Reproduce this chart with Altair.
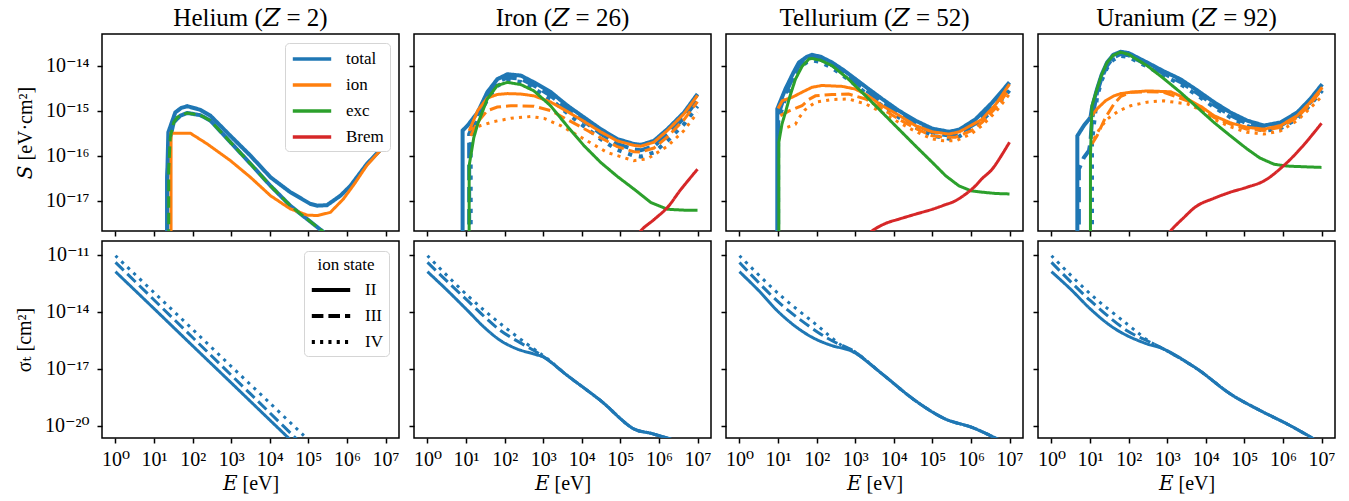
import altair as alt
import pandas as pd

FONT = "Liberation Serif, DejaVu Serif"
BLUE, ORANGE, GREEN, RED = "#1f77b4", "#ff7f0e", "#2ca02c", "#d62728"
COMPONENTS = ["total", "ion", "exc", "Brem"]
COMP_COLORS = [BLUE, ORANGE, GREEN, RED]
ION_STATES = ["II", "III", "IV"]
ELEMENTS = ["Helium", "Iron", "Tellurium", "Uranium"]
ATOMIC_NUMBERS = [2, 26, 52, 92]
X_TICK_EXP = [0, 1, 2, 3, 4, 5, 6, 7]
S_TICK_EXP = [-17, -16, -15, -14]
SIGMA_TICK_EXP = [-20, -17, -14, -11]
X_DOMAIN_EXP = [-0.35, 7.35]
S_DOMAIN_EXP = [-17.673, -13.296]
SIGMA_DOMAIN_EXP = [-20.648, -10.262]

# All curves: (log10 E [eV], log10 value).
# ---------------- stopping power S [eV cm^2] ----------------
HE_S_TOTAL_II = [(1.34, -19.0), (1.34, -16.5), (1.37, -15.48), (1.55, -15.04), (1.70, -14.94), (1.86, -14.90),
                 (2.20, -14.98), (2.46, -15.11), (2.98, -15.56), (3.50, -16.00), (4.02, -16.48), (4.53, -16.81),
                 (5.05, -17.07), (5.23, -17.11), (5.48, -17.10), (5.83, -16.89), (6.09, -16.67), (6.52, -16.18),
                 (7.00, -15.75)]
HE_S_TOTAL_LOW = [(1.34, -19.0), (1.34, -16.5), (1.42, -15.59), (1.51, -15.26), (1.68, -15.11), (1.86, -15.05),
                  (2.20, -15.10), (2.46, -15.22), (2.98, -15.70), (3.50, -16.18), (4.02, -16.67), (4.53, -17.11),
                  (4.97, -17.41), (5.40, -17.70), (5.80, -17.98)]
HE_S_ION_II = [(1.44, -19.0), (1.44, -15.50), (1.94, -15.50), (2.38, -15.74), (2.98, -16.11), (3.50, -16.48),
               (4.02, -16.89), (4.53, -17.18), (4.97, -17.32), (5.23, -17.33), (5.57, -17.26), (5.91, -16.96),
               (6.20, -16.62), (6.52, -16.21), (7.00, -15.76)]
HE_S_EXC_III = [(1.38, -19.0), (1.38, -16.3), (1.42, -15.59), (1.51, -15.26), (1.60, -15.15), (1.68, -15.11),
                (1.86, -15.05), (2.20, -15.10), (2.46, -15.22), (2.98, -15.70), (3.50, -16.18), (4.02, -16.67),
                (4.53, -17.11), (4.97, -17.41), (5.40, -17.70), (5.80, -17.98)]

FE_S_TOTAL_II = [(0.91, -19.0), (0.91, -15.44), (1.04, -15.33), (1.30, -15.04), (1.55, -14.59), (1.81, -14.30),
                 (2.07, -14.19), (2.42, -14.22), (2.76, -14.37), (3.20, -14.59), (3.63, -14.89), (4.06, -15.15),
                 (4.49, -15.41), (4.92, -15.63), (5.35, -15.74), (5.53, -15.76), (5.87, -15.67), (6.22, -15.41),
                 (6.65, -15.04), (7.00, -14.63)]
FE_S_TOTAL_III = [(1.08, -19.0), (1.08, -15.52), (1.30, -15.10), (1.55, -14.66), (1.81, -14.37), (2.07, -14.26),
                  (2.42, -14.29), (2.76, -14.44), (3.20, -14.67), (3.63, -14.97), (4.06, -15.24), (4.49, -15.51),
                  (4.92, -15.74), (5.35, -15.86), (5.53, -15.88), (5.87, -15.79), (6.22, -15.53), (6.65, -15.16),
                  (7.00, -14.76)]
FE_S_TOTAL_IV = [(1.12, -19.0), (1.12, -15.60), (1.30, -15.20), (1.55, -14.75), (1.81, -14.45), (2.07, -14.33),
                 (2.42, -14.36), (2.76, -14.51), (3.20, -14.75), (3.63, -15.06), (4.06, -15.35), (4.49, -15.63),
                 (4.92, -15.87), (5.35, -16.00), (5.53, -16.02), (5.87, -15.93), (6.22, -15.67), (6.65, -15.30),
                 (7.00, -14.90)]
FE_S_ION_II = [(1.08, -15.45), (1.30, -15.00), (1.55, -14.72), (1.81, -14.64), (2.07, -14.62), (2.42, -14.63),
               (2.76, -14.67), (3.20, -14.81), (3.63, -15.02), (4.06, -15.24), (4.49, -15.47), (4.92, -15.67),
               (5.35, -15.77), (5.53, -15.79), (5.87, -15.70), (6.22, -15.44), (6.65, -15.07), (7.00, -14.66)]
FE_S_ION_III = [(1.12, -15.56), (1.30, -15.25), (1.55, -15.00), (1.81, -14.92), (2.16, -14.89), (2.76, -14.90),
                (3.20, -15.00), (3.63, -15.20), (4.06, -15.40), (4.49, -15.60), (4.92, -15.80), (5.35, -15.91),
                (5.53, -15.92), (5.87, -15.83), (6.22, -15.58), (6.65, -15.20), (7.00, -14.80)]
FE_S_ION_IV = [(1.12, -15.41), (1.38, -15.33), (1.73, -15.24), (2.16, -15.17), (2.68, -15.13), (3.02, -15.17),
               (3.45, -15.33), (4.06, -15.63), (4.66, -15.93), (5.35, -16.11), (5.70, -16.07), (6.22, -15.79),
               (6.65, -15.44), (7.00, -15.04)]
FE_S_EXC = [(1.08, -19.0), (1.08, -16.22), (1.20, -15.60), (1.30, -15.30), (1.55, -14.74), (1.81, -14.44),
            (2.07, -14.37), (2.42, -14.42), (2.76, -14.56), (3.19, -14.89), (3.63, -15.35), (4.06, -15.78),
            (4.49, -16.15), (4.92, -16.46), (5.35, -16.74), (5.79, -17.04), (6.22, -17.19), (6.65, -17.21),
            (7.00, -17.21)]
FE_S_BREM = [(5.40, -17.90), (5.53, -17.67), (5.90, -17.40), (6.22, -17.15), (6.56, -16.76), (7.00, -16.30)]

TE_S_TOTAL_II = [(0.98, -19.0), (0.98, -14.96), (1.19, -14.52), (1.40, -14.15), (1.54, -13.93), (1.75, -13.80),
                 (1.88, -13.76), (2.10, -13.80), (2.40, -13.93), (2.70, -14.10), (3.01, -14.30), (3.35, -14.52),
                 (3.70, -14.74), (4.13, -15.00), (4.56, -15.22), (5.00, -15.40), (5.26, -15.44), (5.43, -15.47),
                 (5.70, -15.42), (6.12, -15.19), (6.55, -14.82), (7.00, -14.37)]
TE_S_TOTAL_III = [(1.00, -19.0), (1.00, -15.10), (1.19, -14.62), (1.40, -14.23), (1.54, -14.00), (1.75, -13.86),
                  (1.88, -13.82), (2.10, -13.86), (2.40, -13.99), (2.70, -14.17), (3.01, -14.37), (3.35, -14.59),
                  (3.70, -14.82), (4.13, -15.08), (4.56, -15.30), (5.00, -15.48), (5.26, -15.53), (5.43, -15.55),
                  (5.70, -15.50), (6.12, -15.28), (6.55, -14.92), (7.00, -14.47)]
TE_S_TOTAL_IV = [(1.00, -19.0), (1.00, -15.25), (1.19, -14.72), (1.40, -14.30), (1.54, -14.06), (1.75, -13.92),
                 (1.88, -13.88), (2.10, -13.92), (2.40, -14.05), (2.70, -14.23), (3.01, -14.43), (3.35, -14.66),
                 (3.70, -14.89), (4.13, -15.15), (4.56, -15.37), (5.00, -15.55), (5.26, -15.60), (5.43, -15.62),
                 (5.70, -15.57), (6.12, -15.35), (6.55, -15.00), (7.00, -14.55)]
TE_S_ION_II = [(1.00, -14.95), (1.11, -14.78), (1.37, -14.70), (1.62, -14.59), (1.88, -14.48), (2.14, -14.44),
               (2.66, -14.46), (3.01, -14.52), (3.35, -14.68), (3.70, -14.89), (4.13, -15.10), (4.56, -15.33),
               (5.00, -15.47), (5.43, -15.52), (5.70, -15.47), (6.29, -15.19), (6.65, -14.85), (7.00, -14.41)]
TE_S_ION_III = [(1.06, -15.11), (1.30, -15.00), (1.62, -14.89), (1.80, -14.75), (1.97, -14.67), (2.40, -14.64),
                (2.83, -14.63), (3.27, -14.74), (3.70, -14.96), (4.13, -15.19), (4.56, -15.39), (5.00, -15.56),
                (5.30, -15.59), (5.60, -15.59), (6.00, -15.45), (6.29, -15.26), (6.65, -14.93), (7.00, -14.52)]
TE_S_ION_IV = [(1.24, -15.37), (1.45, -15.30), (1.55, -15.15), (1.70, -14.98), (1.97, -14.81), (2.40, -14.75),
               (2.83, -14.74), (3.27, -14.85), (3.70, -15.04), (4.13, -15.26), (4.56, -15.46), (5.00, -15.63),
               (5.30, -15.67), (5.60, -15.67), (6.00, -15.52), (6.29, -15.33), (6.65, -15.02), (7.00, -14.63)]
TE_S_EXC = [(1.02, -19.0), (1.02, -15.70), (1.10, -15.30), (1.19, -15.04), (1.30, -14.70), (1.45, -14.30),
            (1.62, -14.02), (1.80, -13.85), (1.88, -13.84), (2.10, -13.88), (2.40, -14.00), (2.80, -14.28),
            (3.27, -14.67), (3.70, -15.04), (4.13, -15.41), (4.56, -15.78), (5.00, -16.15), (5.35, -16.45),
            (5.69, -16.67), (6.00, -16.78), (6.29, -16.81), (6.65, -16.84), (7.00, -16.85)]
TE_S_BREM = [(3.30, -17.80), (3.44, -17.67), (3.80, -17.50), (4.13, -17.41), (4.56, -17.30), (5.00, -17.19),
             (5.30, -17.10), (5.60, -17.00), (6.03, -16.74), (6.30, -16.50), (6.55, -16.30), (7.00, -15.70)]

U_S_TOTAL_II = [(0.67, -19.0), (0.67, -15.56), (0.84, -15.33), (1.01, -15.15), (1.05, -14.93), (1.18, -14.52),
                (1.30, -14.20), (1.44, -13.93), (1.60, -13.76), (1.79, -13.69), (2.00, -13.72), (2.48, -13.93),
                (2.90, -14.12), (3.34, -14.30), (3.78, -14.55), (4.21, -14.81), (4.64, -15.04), (5.07, -15.22),
                (5.51, -15.33), (5.94, -15.26), (6.37, -15.04), (6.70, -14.75), (7.02, -14.41)]
U_S_TOTAL_III = [(0.71, -19.0), (0.71, -16.30), (0.84, -16.04), (0.97, -15.89), (1.01, -15.70), (1.05, -15.20),
                 (1.18, -14.60), (1.30, -14.27), (1.44, -14.00), (1.60, -13.82), (1.79, -13.74), (2.00, -13.77),
                 (2.48, -13.98), (2.90, -14.17), (3.34, -14.36), (3.78, -14.61), (4.21, -14.87), (4.64, -15.10),
                 (5.07, -15.29), (5.51, -15.40), (5.94, -15.33), (6.37, -15.11), (6.70, -14.82), (7.02, -14.48)]
U_S_TOTAL_IV = [(1.05, -19.0), (1.05, -15.70), (1.18, -14.70), (1.30, -14.33), (1.44, -14.05), (1.60, -13.87),
                (1.79, -13.78), (2.00, -13.81), (2.48, -14.02), (2.90, -14.22), (3.34, -14.41), (3.78, -14.66),
                (4.21, -14.92), (4.64, -15.15), (5.07, -15.34), (5.51, -15.45), (5.94, -15.39), (6.37, -15.18),
                (6.70, -14.88), (7.02, -14.55)]
U_S_ION_II = [(1.01, -15.15), (1.18, -14.96), (1.40, -14.78), (1.62, -14.67), (1.80, -14.62), (2.05, -14.59),
              (2.48, -14.56), (3.09, -14.58), (3.52, -14.74), (3.90, -14.92), (4.21, -15.11), (4.64, -15.27),
              (5.07, -15.37), (5.51, -15.41), (5.94, -15.33), (6.37, -15.11), (6.70, -14.82), (7.02, -14.48)]
U_S_ION_III = [(1.05, -15.74), (1.18, -15.56), (1.40, -15.15), (1.62, -14.85), (1.80, -14.68), (2.05, -14.59),
               (2.48, -14.58), (2.91, -14.59), (3.52, -14.78), (3.90, -14.96), (4.21, -15.15), (4.64, -15.30),
               (5.07, -15.41), (5.51, -15.44), (5.94, -15.37), (6.37, -15.15), (6.70, -14.86), (7.02, -14.52)]
U_S_ION_IV = [(1.10, -15.63), (1.25, -15.40), (1.44, -15.19), (1.75, -15.00), (2.05, -14.89), (2.48, -14.81),
              (2.91, -14.78), (3.52, -14.85), (3.90, -15.00), (4.21, -15.19), (4.64, -15.36), (5.07, -15.48),
              (5.51, -15.52), (5.94, -15.45), (6.37, -15.22), (6.70, -14.95), (7.02, -14.67)]
U_S_EXC = [(1.01, -19.0), (1.01, -16.00), (1.05, -14.89), (1.18, -14.52), (1.30, -14.20), (1.44, -13.93),
           (1.60, -13.77), (1.79, -13.70), (2.00, -13.75), (2.48, -14.00), (2.90, -14.28), (3.34, -14.59),
           (3.78, -14.93), (4.21, -15.26), (4.64, -15.56), (5.07, -15.85), (5.40, -16.05), (5.77, -16.19),
           (6.10, -16.23), (6.37, -16.24), (7.00, -16.26)]
U_S_BREM = [(2.95, -17.85), (3.09, -17.67), (3.40, -17.40), (3.78, -17.11), (4.20, -16.95), (4.64, -16.81),
            (5.07, -16.70), (5.51, -16.56), (6.02, -16.22), (6.50, -15.80), (7.00, -15.28)]

# ---------------- total cross section sigma_t [cm^2] ----------------
HE_SIG_II = [(0.0, -11.88), (1.0, -13.83), (2.0, -15.79), (3.0, -17.74), (4.0, -19.70), (5.0, -21.65)]
HE_SIG_III = [(0.0, -11.39), (1.0, -13.37), (2.0, -15.35), (3.0, -17.33), (4.0, -19.32), (5.0, -21.30)]
HE_SIG_IV = [(0.0, -11.04), (1.0, -12.98), (2.0, -14.92), (3.0, -16.87), (4.0, -18.80), (5.0, -20.75)]

FE_SIG_II = [(0.0, -11.88), (0.52, -12.88), (1.04, -13.93), (1.47, -14.81), (1.90, -15.52), (2.33, -15.96),
             (2.76, -16.22), (3.02, -16.40), (3.63, -17.36), (4.49, -18.68), (5.35, -20.17), (5.79, -20.40),
             (6.22, -20.65), (6.91, -21.05)]
FE_SIG_III = [(0.0, -11.39), (1.04, -13.41), (1.90, -14.99), (2.76, -16.04), (3.06, -16.43), (3.63, -17.36),
              (4.49, -18.68), (5.35, -20.17), (5.79, -20.40), (6.22, -20.65)]
FE_SIG_IV = [(0.0, -11.04), (1.04, -13.14), (1.90, -14.64), (2.76, -15.96), (3.11, -16.47), (3.63, -17.36),
             (4.49, -18.68), (5.35, -20.17), (5.79, -20.40), (6.22, -20.65)]

TE_SIG_II = [(0.0, -11.88), (0.50, -12.88), (1.02, -14.02), (1.54, -14.90), (1.97, -15.43), (2.40, -15.78),
             (2.92, -16.08), (3.70, -17.27), (4.56, -18.68), (5.34, -19.65), (6.03, -20.09), (6.64, -20.65),
             (7.16, -21.14)]
TE_SIG_III = [(0.0, -11.39), (1.02, -13.50), (1.97, -14.99), (2.40, -15.52), (2.83, -15.92), (3.01, -16.13),
              (3.70, -17.27), (4.56, -18.68), (5.34, -19.65), (6.03, -20.09), (6.64, -20.65)]
TE_SIG_IV = [(0.0, -11.04), (1.02, -13.06), (1.97, -14.64), (2.66, -15.78), (3.01, -16.13), (3.70, -17.27),
             (4.56, -18.68), (5.34, -19.65), (6.03, -20.09), (6.64, -20.65)]

U_SIG_II = [(0.0, -11.88), (0.49, -12.79), (1.01, -13.85), (1.53, -14.73), (1.96, -15.25), (2.48, -15.69),
            (2.91, -15.96), (3.78, -17.01), (4.64, -18.33), (5.42, -19.21), (6.11, -19.91), (6.76, -20.65),
            (7.23, -21.32)]
U_SIG_III = [(0.0, -11.39), (1.01, -13.41), (1.96, -14.99), (2.48, -15.52), (2.83, -15.87), (3.78, -17.01),
             (4.64, -18.33), (5.42, -19.21), (6.11, -19.91), (6.76, -20.65)]
U_SIG_IV = [(0.0, -11.04), (1.01, -13.06), (1.96, -14.64), (2.57, -15.60), (2.91, -15.96), (3.78, -17.01),
            (4.64, -18.33), (5.42, -19.21), (6.11, -19.91), (6.76, -20.65)]

S_CURVES = [
    [("total", "II", HE_S_TOTAL_II), ("total", "II", HE_S_TOTAL_LOW), ("ion", "II", HE_S_ION_II),
     ("exc", "III", HE_S_EXC_III)],
    [("total", "II", FE_S_TOTAL_II), ("total", "III", FE_S_TOTAL_III), ("total", "IV", FE_S_TOTAL_IV),
     ("ion", "II", FE_S_ION_II), ("ion", "III", FE_S_ION_III), ("ion", "IV", FE_S_ION_IV),
     ("exc", "II", FE_S_EXC), ("Brem", "II", FE_S_BREM)],
    [("total", "II", TE_S_TOTAL_II), ("total", "III", TE_S_TOTAL_III), ("total", "IV", TE_S_TOTAL_IV),
     ("ion", "II", TE_S_ION_II), ("ion", "III", TE_S_ION_III), ("ion", "IV", TE_S_ION_IV),
     ("exc", "II", TE_S_EXC), ("Brem", "II", TE_S_BREM)],
    [("total", "II", U_S_TOTAL_II), ("total", "III", U_S_TOTAL_III), ("total", "IV", U_S_TOTAL_IV),
     ("ion", "II", U_S_ION_II), ("ion", "III", U_S_ION_III), ("ion", "IV", U_S_ION_IV),
     ("exc", "II", U_S_EXC), ("Brem", "II", U_S_BREM)],
]
SIG_CURVES = [
    [("II", HE_SIG_II), ("III", HE_SIG_III), ("IV", HE_SIG_IV)],
    [("II", FE_SIG_II), ("III", FE_SIG_III), ("IV", FE_SIG_IV)],
    [("II", TE_SIG_II), ("III", TE_SIG_III), ("IV", TE_SIG_IV)],
    [("II", U_SIG_II), ("III", U_SIG_III), ("IV", U_SIG_IV)],
]

PANEL_W, PANEL_H = 297, 197
DASH_THICK = [[1, 0], [15.4, 6.7], [4.2, 6.9]]
DASH_THIN = [[1, 0], [11.6, 5.0], [3.1, 5.2]]
LEGEND_LINE = "M-2.4,0H2.4"   # legend handle: a horizontal stroke wider than the symbol's box
# curves with a sharp vertical onset stay linear; smooth ones use a spline through the read points
INTERP = {"total": "linear", "ion": "linear", "exc": "linear", "Brem": "catmull-rom"}

SUP = str.maketrans("-0123456789", "⁻⁰¹²³⁴⁵⁶⁷⁸⁹")


def label_expr(exps):
    e = "round(log(datum.value) / LN10)"
    parts = [f"{e} == {k} ? '10{str(k).translate(SUP)}'" for k in exps]
    return " : ".join(parts) + " : ''"


x_scale = alt.Scale(type="log", domain=[10 ** X_DOMAIN_EXP[0], 10 ** X_DOMAIN_EXP[1]], nice=False)
s_scale = alt.Scale(type="log", domain=[10 ** S_DOMAIN_EXP[0], 10 ** S_DOMAIN_EXP[1]], nice=False)
sig_scale = alt.Scale(type="log", domain=[10 ** SIGMA_DOMAIN_EXP[0], 10 ** SIGMA_DOMAIN_EXP[1]], nice=False)
X_VALUES = [10.0 ** k for k in X_TICK_EXP]


def x_axis(show):
    if show:
        return alt.Axis(values=X_VALUES, labelExpr=label_expr(X_TICK_EXP), title="𝐸 [eV]",
                        labelPadding=6, titlePadding=4)
    return alt.Axis(values=X_VALUES, labels=False, title=None)


def y_axis(show, exps, title):
    vals = [10.0 ** k for k in exps]
    if show:
        return alt.Axis(values=vals, labelExpr=label_expr(exps), title=title, labelPadding=8, titlePadding=10)
    return alt.Axis(values=vals, labels=False, title=None)


def to_frame(curves):
    rows = []
    for n, (comp, state, pts) in enumerate(curves):
        for i, (lx, ly) in enumerate(pts):
            rows.append({"comp": comp, "state": state, "series": f"{comp}-{state}-{n}", "idx": i,
                         "E": 10 ** lx, "V": 10 ** ly})
    return pd.DataFrame(rows)


def top_panel(col):
    df = to_frame(S_CURVES[col])
    layers = []
    for comp in COMPONENTS:
        sub = df[df["comp"] == comp]
        if sub.empty:
            continue
        thick = comp == "total"
        legend = None
        if col == 0 and comp == "total":
            legend = alt.Legend(title=None, orient="top-right", offset=9, symbolType=LEGEND_LINE, symbolSize=256,
                                symbolOffset=11, symbolStrokeWidth=3.5, labelFont=FONT, labelFontSize=17,
                                labelOffset=24, padding=6, rowPadding=8, fillColor="white",
                                strokeColor="#d5d5d5", cornerRadius=4, labelColor="black")
        layers.append(
            alt.Chart(sub).mark_line(strokeWidth=4 if thick else 3, clip=True, interpolate=INTERP[comp]).encode(
                x=alt.X("E:Q", scale=x_scale, axis=x_axis(False)),
                y=alt.Y("V:Q", scale=s_scale, axis=y_axis(col == 0, S_TICK_EXP, "𝑆 [eV·cm²]")),
                color=alt.Color("comp:N", scale=alt.Scale(domain=COMPONENTS, range=COMP_COLORS), legend=legend),
                strokeDash=alt.StrokeDash("state:N", scale=alt.Scale(domain=ION_STATES,
                                          range=DASH_THICK if thick else DASH_THIN), legend=None),
                detail="series:N",
                order="idx:Q",
            )
        )
    title = alt.TitleParams(f"{ELEMENTS[col]} (𝑍 = {ATOMIC_NUMBERS[col]})", font=FONT, fontSize=25,
                            fontWeight="normal", baseline="alphabetic", offset=-17, anchor="middle", color="black")
    return alt.layer(*layers).resolve_scale(strokeDash="independent").properties(
        width=PANEL_W, height=PANEL_H, title=title)


def bottom_panel(col):
    rows = []
    for n, (state, pts) in enumerate(SIG_CURVES[col]):
        for i, (lx, ly) in enumerate(pts):
            rows.append({"state": state, "series": f"s{n}", "idx": i, "E": 10 ** lx, "V": 10 ** ly})
    df = pd.DataFrame(rows)
    legend = None
    if col == 0:
        legend = alt.Legend(title="ion state", orient="top-right", offset=10, symbolType=LEGEND_LINE,
                            symbolSize=256, symbolOffset=11, symbolStrokeWidth=4, symbolStrokeColor="black",
                            labelFont=FONT, labelFontSize=17, labelOffset=24, titleFont=FONT, titleFontSize=17,
                            titleFontWeight="normal", titleAnchor="middle", titlePadding=6, padding=6,
                            rowPadding=8, fillColor="white", strokeColor="#d5d5d5", cornerRadius=4,
                            labelColor="black", titleColor="black")
    return alt.Chart(df).mark_line(strokeWidth=3, clip=True, color=BLUE, interpolate="catmull-rom").encode(
        x=alt.X("E:Q", scale=x_scale, axis=x_axis(True)),
        y=alt.Y("V:Q", scale=sig_scale, axis=y_axis(col == 0, SIGMA_TICK_EXP, "σₜ [cm²]")),
        strokeDash=alt.StrokeDash("state:N", scale=alt.Scale(domain=ION_STATES, range=DASH_THIN), legend=legend),
        detail="series:N",
        order="idx:Q",
    ).properties(width=PANEL_W, height=PANEL_H)


panels = [top_panel(c) for c in range(4)] + [bottom_panel(c) for c in range(4)]

chart = alt.concat(*panels, columns=4, spacing={"row": 10, "column": 15}, bounds="flush").resolve_scale(
    color="independent", strokeDash="independent").resolve_legend(
    color="independent", strokeDash="independent").properties(
    padding={"left": 5, "top": -3, "right": 5, "bottom": 0}, background="white"
).configure_view(stroke="black", strokeWidth=1.5).configure_axis(
    labelFont=FONT, titleFont=FONT, labelFontSize=20, titleFontSize=20, titleFontWeight="normal",
    labelColor="black", titleColor="black", tickColor="black", tickWidth=1.5, tickSize=5,
    domain=False, grid=False, labelFlush=False, labelOverlap=False
)

chart.save("out.html", embed_options={"renderer": "svg", "actions": False})
